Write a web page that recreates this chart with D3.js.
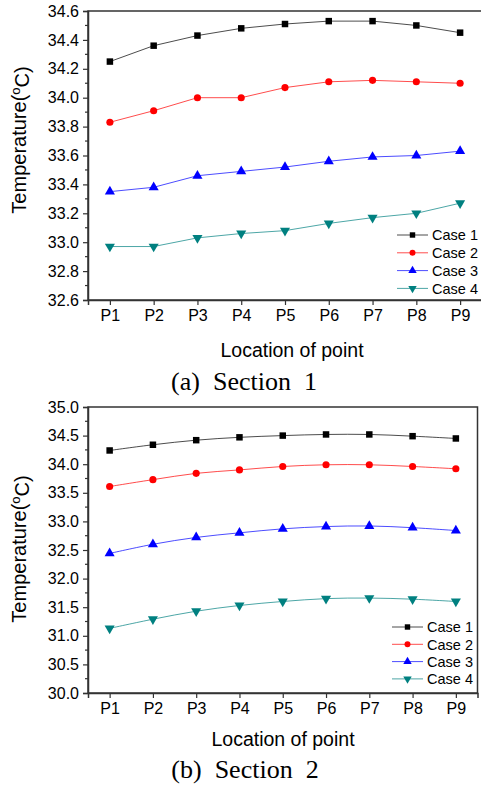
<html>
<head>
<meta charset="utf-8">
<script src="https://d3js.org/d3.v7.min.js"></script>
<style>
    body { margin: 0; background: #fff; }
    text { font-family: "Liberation Sans", Arial, sans-serif; fill: #000; }
</style>
</head>
<body>
<script>

    var points = ["P1", "P2", "P3", "P4", "P5", "P6", "P7", "P8", "P9"];
    var caseNames = ["Case 1", "Case 2", "Case 3", "Case 4"];

    // Section 1
    var sec1Case1 = [34.25, 34.36, 34.43, 34.48, 34.51, 34.53, 34.53, 34.50, 34.45];
    var sec1Case2 = [33.83, 33.91, 34.00, 34.00, 34.07, 34.11, 34.12, 34.11, 34.10];
    var sec1Case3 = [33.35, 33.38, 33.46, 33.49, 33.52, 33.56, 33.59, 33.60, 33.63];
    var sec1Case4 = [32.97, 32.97, 33.03, 33.06, 33.08, 33.13, 33.17, 33.20, 33.27];

    // Section 2
    var sec2Case1 = [34.24, 34.34, 34.42, 34.47, 34.50, 34.52, 34.52, 34.49, 34.45];
    var sec2Case2 = [33.61, 33.73, 33.84, 33.90, 33.96, 33.99, 33.99, 33.96, 33.92];
    var sec2Case3 = [32.44, 32.60, 32.72, 32.80, 32.87, 32.91, 32.92, 32.89, 32.84];
    var sec2Case4 = [31.13, 31.29, 31.43, 31.53, 31.60, 31.65, 31.66, 31.64, 31.60];

    var sec1Ticks = [32.6, 32.8, 33.0, 33.2, 33.4, 33.6, 33.8, 34.0, 34.2, 34.4, 34.6];
    var sec2Ticks = [30.0, 30.5, 31.0, 31.5, 32.0, 32.5, 33.0, 33.5, 34.0, 34.5, 35.0];

    var colors = ["#000000", "#ff0000", "#0000ff", "#008080"];
    var symbols = [d3.symbolSquare, d3.symbolCircle, d3.symbolTriangle, d3.symbolTriangle];
    var symSizes = [42, 40, 44, 44];
    var rotations = [0, 0, 0, 180];

    var sansFont = "'Liberation Sans', Arial, sans-serif";
    var serifFont = "'Liberation Serif', 'Times New Roman', serif";

    var svg = d3.select("body").append("svg")
        .attr("width", 481)
        .attr("height", 785);

    function drawPanel(cfg) {
        var x = d3.scalePoint().domain(points).range([cfg.left, cfg.right]).padding(0.5);
        var y = d3.scaleLinear().domain(cfg.domain).range([cfg.bottom, cfg.top]);

        var g = svg.append("g");

        // frame
        g.append("rect")
            .attr("x", cfg.left).attr("y", cfg.top)
            .attr("width", cfg.right - cfg.left).attr("height", cfg.bottom - cfg.top)
            .attr("fill", "none").attr("stroke", "#333").attr("stroke-width", 1.5);

        // y axis
        var yAxis = d3.axisLeft(y).tickValues(cfg.ticks).tickSize(5).tickPadding(4)
            .tickFormat(d3.format(".1f"));
        var ya = g.append("g").attr("transform", "translate(" + cfg.left + ",0)").call(yAxis);
        ya.attr("font-family", null).attr("font-size", null);
        ya.select(".domain").attr("stroke", "#333").attr("stroke-width", 1.5);
        ya.selectAll(".tick line").attr("stroke", "#333").attr("stroke-width", 1.2);
        ya.selectAll(".tick text").style("font-size", "16px").style("font-family", sansFont);

        // minor ticks
        var minor = [];
        for (var i = 0; i < cfg.ticks.length - 1; i++) minor.push((cfg.ticks[i] + cfg.ticks[i + 1]) / 2);
        g.selectAll(".minor").data(minor).enter().append("line")
            .attr("x1", cfg.left - 3).attr("x2", cfg.left)
            .attr("y1", function (d) { return y(d); })
            .attr("y2", function (d) { return y(d); })
            .attr("stroke", "#333").attr("stroke-width", 1.2);

        // x axis
        var xAxis = d3.axisBottom(x).tickSize(5).tickPadding(5);
        var xa = g.append("g").attr("transform", "translate(0," + cfg.bottom + ")").call(xAxis);
        xa.attr("font-family", null).attr("font-size", null);
        xa.select(".domain").attr("stroke", "#333").attr("stroke-width", 1.5);
        xa.selectAll(".tick line").attr("stroke", "#333").attr("stroke-width", 1.2);
        xa.selectAll(".tick text").style("font-size", "16px").style("font-family", sansFont);

        // series
        var line = d3.line()
            .x(function (d, i) { return x(points[i]); })
            .y(function (d) { return y(d); })
            .curve(cfg.curve);

        cfg.series.forEach(function (vals, k) {
            g.append("path").datum(vals)
                .attr("d", line)
                .attr("fill", "none")
                .attr("stroke", colors[k])
                .attr("stroke-width", 1)
                .attr("stroke-opacity", 0.7);
            g.selectAll(".m" + k).data(vals).enter().append("path")
                .attr("d", d3.symbol().type(symbols[k]).size(symSizes[k]))
                .attr("fill", colors[k])
                .attr("transform", function (d, i) {
                    return "translate(" + x(points[i]) + "," + y(d) + ") rotate(" + rotations[k] + ")";
                });
        });

        // legend
        caseNames.forEach(function (name, k) {
            var ly = cfg.legendY + k * cfg.legendStep;
            g.append("line")
                .attr("x1", cfg.legendX).attr("x2", cfg.legendX + 31)
                .attr("y1", ly).attr("y2", ly)
                .attr("stroke", colors[k]).attr("stroke-width", 1).attr("stroke-opacity", 0.7);
            g.append("path")
                .attr("d", d3.symbol().type(symbols[k]).size(symSizes[k] * 0.7))
                .attr("fill", colors[k])
                .attr("transform", "translate(" + (cfg.legendX + 15.5) + "," + ly + ") rotate(" + rotations[k] + ")");
            g.append("text")
                .attr("x", cfg.legendX + 35).attr("y", ly)
                .attr("dy", "0.36em")
                .style("font-size", "14.5px")
                .style("font-family", sansFont)
                .text(name);
        });

        // axis titles
        g.append("text")
            .attr("x", cfg.xTitleX).attr("y", cfg.xTitleY)
            .attr("text-anchor", "middle")
            .style("font-size", "19.5px")
            .style("font-family", sansFont)
            .text("Location of point");

        var yt = g.append("text")
            .attr("transform", "translate(" + cfg.yTitleX + "," + cfg.yTitleY + ") rotate(-90)")
            .attr("text-anchor", "middle")
            .style("font-size", "20px")
            .style("font-family", sansFont);
        yt.append("tspan").text("Temperature(");
        yt.append("tspan").attr("dy", "-0.45em").style("font-size", "13px").text("o");
        yt.append("tspan").attr("dy", "0.45em").text("C)");

        g.append("text")
            .attr("x", cfg.capX).attr("y", cfg.capY)
            .attr("text-anchor", "middle")
            .attr("xml:space", "preserve")
            .style("white-space", "pre")
            .style("font-size", "26px")
            .style("font-family", serifFont)
            .text(cfg.caption);
    }

    drawPanel({
        left: 88, right: 482, top: 11, bottom: 300,
        domain: [32.6, 34.6], ticks: sec1Ticks,
        series: [sec1Case1, sec1Case2, sec1Case3, sec1Case4],
        curve: d3.curveLinear,
        legendX: 397, legendY: 235, legendStep: 17.8,
        xTitleX: 292, xTitleY: 357,
        yTitleX: 26, yTitleY: 140,
        capX: 244, capY: 390, caption: "(a)  Section  1"
    });

    drawPanel({
        left: 88, right: 477.5, top: 407, bottom: 693,
        domain: [30, 35], ticks: sec2Ticks,
        series: [sec2Case1, sec2Case2, sec2Case3, sec2Case4],
        curve: d3.curveCatmullRom,
        legendX: 392, legendY: 627, legendStep: 17.3,
        xTitleX: 283, xTitleY: 746,
        yTitleX: 26, yTitleY: 549,
        capX: 245, capY: 778, caption: "(b)  Section  2"
    });

</script>
</body>
</html>
